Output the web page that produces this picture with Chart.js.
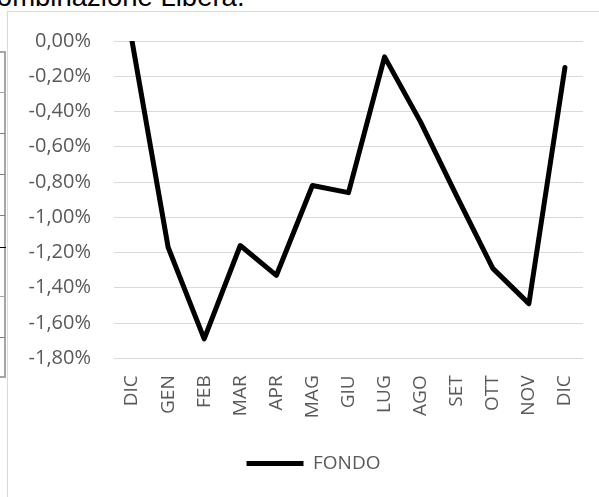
<!DOCTYPE html>
<html>
<head>
<meta charset="utf-8">
<script src="https://cdn.jsdelivr.net/npm/chart.js@4.4.0/dist/chart.umd.min.js"></script>
<style>
  body { margin: 0; width: 599px; height: 497px; overflow: hidden; background: #fff; position: relative; }
  #caption { position: absolute; left: -23px; top: -17px; font: 27.5px/27.5px "Liberation Sans", Arial, sans-serif; color: #000; white-space: nowrap; }
  #frame { position: absolute; left: 7px; top: 11px; width: 600px; height: 500px; border: 1px solid #d9d9d9; }
  #holder { position: absolute; left: 0; top: 0; width: 591px; height: 485px; }
  .tbl { position: absolute; left: 0; width: 5px; }
  #tblv { position: absolute; left: 4px; top: 51px; width: 2px; height: 327px; background: #a6a6a6; }
</style>
</head>
<body>
<div id="caption">Combinazione Libera.</div>
<!-- bordo della tabella tagliata a sinistra -->
<div id="tblv"></div>
<div class="tbl" style="top:51px;height:2px;background:#a6a6a6"></div>
<div class="tbl" style="top:92px;height:1px;background:#a6a6a6"></div>
<div class="tbl" style="top:133px;height:1px;background:#7f7f7f"></div>
<div class="tbl" style="top:174px;height:1px;background:#7f7f7f"></div>
<div class="tbl" style="top:215px;height:1px;background:#7f7f7f"></div>
<div class="tbl" style="top:247px;height:1px;width:6px;background:#000"></div>
<div class="tbl" style="top:296px;height:1px;background:#a6a6a6"></div>
<div class="tbl" style="top:337px;height:1px;background:#7f7f7f"></div>
<div class="tbl" style="top:376px;height:2px;background:#a6a6a6"></div>
<div id="frame">
  <div id="holder"><canvas id="canvas"></canvas></div>
</div>
<script>
const months = ['DIC', 'GEN', 'FEB', 'MAR', 'APR', 'MAG', 'GIU', 'LUG', 'AGO', 'SET', 'OTT', 'NOV', 'DIC'];
const fondo = [0, -1.17, -1.69, -1.16, -1.33, -0.82, -0.86, -0.09, -0.46, -0.88, -1.29, -1.49, -0.15];
const seriesName = 'FONDO';
const yMin = -1.8;
const yMax = 0;
const yStep = 0.2;

const gray = '#595959';
const ctx = document.getElementById('canvas');

const formatPct = (v) => (Math.round(v * 100) / 100).toFixed(2).replace('.', ',') + '%';

// sposta la legenda un po' a destra, come nell'originale
const legendShift = {
    id: 'legendShift',
    afterLayout: (chart) => {
        chart.legend.left += 18;
        chart.legend.right += 18;
    }
};

new Chart(ctx, {
    type: 'line',
    data: {
        labels: months,
        datasets: [{
            label: seriesName,
            data: fondo,
            borderColor: '#000',
            backgroundColor: '#000',
            borderWidth: 5,
            borderCapStyle: 'round',
            borderJoinStyle: 'round',
            pointRadius: 0,
            tension: 0,
            fill: false
        }]
    },
    options: {
        responsive: true,
        maintainAspectRatio: false,
        animation: false,
        layout: {
            padding: {left: 0, right: 16, top: 29, bottom: 14}
        },
        plugins: {
            tooltip: {enabled: false},
            legend: {
                position: 'bottom',
                labels: {
                    usePointStyle: true,
                    pointStyle: 'line',
                    pointStyleWidth: 57,
                    color: gray,
                    padding: 10,
                    font: {family: '"Open Sans"', size: 19}
                }
            }
        },
        scales: {
            x: {
                offset: true,
                grid: {display: false, drawTicks: false},
                border: {display: false},
                ticks: {
                    autoSkip: false,
                    maxRotation: 90,
                    minRotation: 90,
                    padding: 17,
                    color: gray,
                    font: {family: '"Open Sans"', size: 19}
                },
                afterFit: (scale) => {
                    scale.height = 85.7;
                    scale.paddingLeft = 0;
                    scale.paddingRight = 0;
                }
            },
            y: {
                min: yMin,
                max: yMax,
                grid: {color: '#d9d9d9', lineWidth: 1, drawTicks: false},
                border: {display: false},
                ticks: {
                    stepSize: yStep,
                    padding: 23,
                    color: gray,
                    font: {family: '"Open Sans"', size: 20},
                    callback: (value) => formatPct(value)
                },
                afterFit: (scale) => {
                    scale.width = 106;
                    scale.paddingTop = 0;
                    scale.paddingBottom = 0;
                }
            }
        }
    },
    plugins: [legendShift]
});
</script>
</body>
</html>
